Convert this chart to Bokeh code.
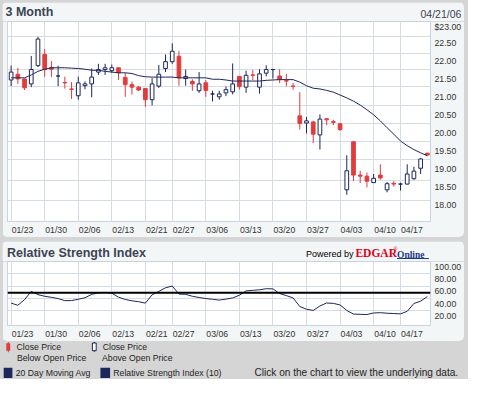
from bokeh.plotting import figure
from bokeh.layouts import column
from bokeh.models import Range1d, FixedTicker, Label, BoxAnnotation, Span, ColumnDataSource
from bokeh.embed import file_html
from bokeh.resources import INLINE

# ---------------- data ----------------
dates = ["01/23", "01/24", "01/25", "01/26", "01/27",
         "01/30", "01/31", "02/01", "02/02", "02/03",
         "02/06", "02/07", "02/08", "02/09", "02/10",
         "02/13", "02/14", "02/15", "02/16", "02/17",
         "02/21", "02/22", "02/23", "02/24",
         "02/27", "02/28", "03/01", "03/02", "03/03",
         "03/06", "03/07", "03/08", "03/09", "03/10",
         "03/13", "03/14", "03/15", "03/16", "03/17",
         "03/20", "03/21", "03/22", "03/23", "03/24",
         "03/27", "03/28", "03/29", "03/30", "03/31",
         "04/03", "04/04", "04/05", "04/06", "04/07",
         "04/10", "04/11", "04/12", "04/13",
         "04/17", "04/18", "04/19", "04/20", "04/21"]

opens = [21.48, 21.64, 21.51, 21.37, 21.88, 22.19, 21.83, 21.59, 21.41, 21.23,
         21.04, 21.32, 21.37, 21.70, 21.77, 21.74, 21.82, 21.55, 21.35, 21.28,
         21.24, 20.93, 21.31, 21.80, 21.99, 22.14, 21.52, 21.44, 21.18, 21.40,
         21.09, 21.01, 21.12, 21.15, 21.58, 21.28, 21.62, 21.28, 21.67, 21.77,
         21.59, 21.46, 21.31, 20.48, 20.28, 20.31, 19.95, 20.40, 20.32, 20.26,
         18.42, 19.76, 18.83, 18.80, 18.62, 18.83, 18.42, 18.60, 18.58, 18.58,
         18.73, 19.02, 19.44]
highs = [21.88, 21.82, 21.51, 22.15, 22.68, 22.34, 22.01, 21.88, 21.57, 21.42,
         21.57, 21.44, 21.80, 21.93, 21.93, 21.91, 21.82, 21.68, 21.44, 21.31,
         21.24, 21.53, 21.90, 22.19, 22.50, 22.29, 21.77, 21.50, 21.70, 21.48,
         21.18, 21.18, 21.30, 21.94, 21.58, 21.74, 21.76, 21.78, 21.89, 21.79,
         21.78, 21.65, 21.40, 21.14, 20.45, 20.34, 20.52, 20.40, 20.37, 20.26,
         19.38, 19.76, 18.95, 18.90, 18.86, 19.13, 18.64, 18.66, 18.62, 19.13,
         19.06, 19.30, 19.45]
lows = [21.31, 21.37, 21.20, 21.28, 21.84, 21.57, 21.56, 21.31, 21.24, 20.95,
        20.93, 21.22, 21.00, 21.62, 21.62, 21.68, 21.48, 21.01, 21.07, 21.17,
        20.73, 20.77, 21.26, 21.70, 21.93, 21.32, 21.32, 21.18, 21.12, 21.01,
        20.88, 20.93, 21.03, 21.08, 21.21, 21.12, 21.48, 21.10, 21.58, 21.52,
        21.39, 21.30, 21.21, 20.10, 19.99, 19.72, 19.54, 20.22, 20.22, 20.06,
        18.28, 18.66, 18.61, 18.49, 18.62, 18.70, 18.35, 18.51, 18.40, 18.57,
        18.70, 18.86, 19.38]
closes = [21.70, 21.51, 21.26, 21.77, 22.62, 21.77, 21.78, 21.59, 21.40, 21.22,
          21.40, 21.37, 21.56, 21.77, 21.82, 21.82, 21.68, 21.35, 21.28, 21.20,
          20.93, 21.37, 21.64, 21.99, 22.28, 21.54, 21.58, 21.37, 21.37, 21.19,
          21.09, 21.09, 21.21, 21.37, 21.30, 21.61, 21.61, 21.65, 21.77, 21.77,
          21.49, 21.45, 21.30, 20.27, 20.34, 19.97, 20.39, 20.37, 20.30, 20.10,
          18.95, 18.83, 18.80, 18.66, 18.74, 18.75, 18.59, 18.58, 18.58, 18.86,
          18.94, 19.28, 19.39]
ma20 = [21.54, 21.54, 21.54, 21.62, 21.72, 21.78, 21.82, 21.82, 21.82, 21.81,
        21.80, 21.78, 21.75, 21.75, 21.72, 21.70, 21.68, 21.68, 21.66, 21.60,
        21.57, 21.56, 21.56, 21.56, 21.56, 21.54, 21.54, 21.54, 21.54, 21.54,
        21.50, 21.50, 21.48, 21.45, 21.45, 21.45, 21.45, 21.45, 21.47, 21.48,
        21.49, 21.49, 21.49, 21.42, 21.32, 21.25, 21.23, 21.19, 21.14, 21.06,
        20.98, 20.89, 20.78, 20.65, 20.51, 20.34, 20.15, 19.97, 19.78, 19.65,
        19.54, 19.45, 19.37]
rsi10 = [40.7, 37.2, 46.3, 59.7, 54.5, 51.8, 50.1, 48.1, 44.7, 44.8,
         46.9, 49.4, 54.9, 57.5, 58.0, 56.9, 50.3, 46.6, 44.4, 43.0,
         40.7, 54.2, 59.7, 65.5, 68.4, 55.4, 55.0, 51.8, 49.8, 48.1,
         46.9, 45.6, 47.2, 49.1, 53.5, 60.6, 61.4, 62.3, 64.1, 63.8,
         56.2, 52.9, 49.1, 35.2, 30.8, 28.8, 36.1, 40.9, 40.3, 37.7,
         28.8, 22.9, 22.5, 22.2, 24.7, 25.2, 24.3, 23.8, 23.3, 27.4,
         40.1, 43.8, 51.4]
rsi_level = 57.4

x_tick_labels = ["01/23", "01/30", "02/06", "02/13", "02/21", "02/27", "03/06",
                 "03/13", "03/20", "03/27", "04/03", "04/10", "04/17"]
price_ticks = [18.0, 18.5, 19.0, 19.5, 20.0, 20.5, 21.0, 21.5, 22.0, 22.5, 23.0]
price_tick_labels = ["18.00", "18.50", "19.00", "19.50", "20.00", "20.50",
                     "21.00", "21.50", "22.00", "22.50", "$23.00"]
price_grid = [22.70, 22.23, 21.76, 21.29, 20.78, 20.28, 19.76, 19.26, 18.68, 18.12]
rsi_ticks = [20, 40, 60, 80, 100]
rsi_tick_labels = ["20.00", "40.00", "60.00", "80.00", "100.00"]
rsi_grid = [28.4, 48.0, 68.3, 88.0]

# ---------------- style ----------------
NAVY = "#1c275c"
RED = "#e13c3c"
BG = "#d5d5d5"
PANEL = "#f3f6f6"
GRID = "#d6dce6"
TXT = "#3c4454"
FONT = "Liberation Sans"
LABEL_SHIFT = 1.7   # date labels sit to the right of their grid line

idx = list(range(len(dates)))
x_ticks = [dates.index(d) for d in x_tick_labels]
x_label_pos = [t + LABEL_SHIFT for t in x_ticks]
is_up = [c >= o for o, c in zip(opens, closes)]
src = ColumnDataSource(dict(
    x=idx,
    top=[max(o, c) for o, c in zip(opens, closes)],
    bottom=[min(o, c) for o, c in zip(opens, closes)],
    high=highs, low=lows,
    color=[NAVY if u else RED for u in is_up],
    fill=["white" if u else RED for u in is_up],
))

panel_styles = {"border-radius": "5px", "overflow": "hidden",
                "outline": "1px solid #c3caca", "outline-offset": "-1px"}

xr = Range1d(-0.54, 62.47)


def strip(width, height, fill):
    s = figure(width=width, height=height, x_range=Range1d(0, 1), y_range=Range1d(0, 1),
               x_axis_type=None, y_axis_type=None, toolbar_location=None,
               output_backend="svg", min_border=0, background_fill_color=fill,
               border_fill_color=fill, outline_line_color=None)
    s.grid.visible = False
    return s


def text(p, x, y, txt, size, color, font=FONT, style="normal"):
    p.add_layout(Label(x=x, y=y, x_units="screen", y_units="screen", text=txt,
                       text_font=font, text_font_size=size, text_font_style=style,
                       text_color=color, text_align="left", text_baseline="middle"))


def box(p, l, r, b, t, fill, line=None):
    p.add_layout(BoxAnnotation(left=l, right=r, bottom=b, top=t,
                               left_units="screen", right_units="screen",
                               bottom_units="screen", top_units="screen",
                               fill_color=fill, fill_alpha=1, line_color=line,
                               line_width=1, line_alpha=1))


def style_axes(p, yticks, ylabels):
    for ax in p.axis:
        ax.axis_line_color = None
        ax.major_tick_line_color = None
        ax.minor_tick_line_color = None
        ax.major_tick_in = 0
        ax.major_tick_out = 0
        ax.major_label_text_font = FONT
        ax.major_label_text_font_size = "8.7px"
        ax.major_label_text_color = "#333333"
    p.xaxis.ticker = FixedTicker(ticks=x_label_pos)
    p.xaxis.major_label_overrides = {t: l for t, l in zip(x_label_pos, x_tick_labels)}
    p.xaxis.major_label_standoff = 3
    p.yaxis.ticker = FixedTicker(ticks=yticks)
    p.yaxis.major_label_overrides = {t: l for t, l in zip(yticks, ylabels)}
    p.yaxis.major_label_standoff = 4
    p.xgrid.ticker = FixedTicker(ticks=x_ticks)
    p.xgrid.grid_line_color = GRID
    p.ygrid.grid_line_color = GRID


# ---------------- price panel ----------------
h1 = strip(462, 19, PANEL)
text(h1, 3, 9.5, "3 Month", "12.5px", TXT, style="bold")
text(h1, 418, 7.6, "04/21/06", "10.5px", TXT)

p1 = figure(width=462, height=216, x_range=xr, y_range=Range1d(17.537, 23.109),
            y_axis_location="right", toolbar_location=None, output_backend="svg",
            min_border_left=5, min_border_right=33, min_border_top=0, min_border_bottom=15,
            background_fill_color="white", border_fill_color=PANEL,
            outline_line_color="#ccd2dc")
style_axes(p1, price_ticks, price_tick_labels)
p1.ygrid.ticker = FixedTicker(ticks=price_grid)

p1.segment(x0="x", y0="low", x1="x", y1="high", line_color="color", line_width=1, source=src)
p1.vbar(x="x", width=0.55, top="top", bottom="bottom", fill_color="fill",
        line_color="color", line_width=1, source=src)
p1.line(idx, ma20, line_color=NAVY, line_width=1)

# ---------------- RSI panel ----------------
h2 = strip(462, 20, PANEL)
text(h2, 4.5, 8.4, "Relative Strength Index", "12.5px", TXT, style="bold")
text(h2, 303.5, 7.9, "Powered by", "9px", "black")
text(h2, 352.9, 8.2, "EDGAR", "11.5px", "#e0001b", font="Liberation Serif", style="bold")
text(h2, 391.3, 12.3, "\u00ae", "5px", "#e0001b")
text(h2, 394.5, 7.0, "Online", "9.5px", "#1d3b87", font="Liberation Serif", style="bold")
box(h2, 394.5, 426.4, 2.6, 3.6, "#1d3b87")

p2 = figure(width=462, height=80, x_range=xr, y_range=Range1d(4.4, 108.2),
            y_axis_location="right", toolbar_location=None, output_backend="svg",
            min_border_left=5, min_border_right=33, min_border_top=0, min_border_bottom=16,
            background_fill_color="white", border_fill_color=PANEL,
            outline_line_color="#ccd2dc")
style_axes(p2, rsi_ticks, rsi_tick_labels)
p2.ygrid.ticker = FixedTicker(ticks=rsi_grid)
p2.add_layout(Span(location=rsi_level, dimension="width", line_color="black", line_width=2))
p2.line(idx, rsi10, line_color=NAVY, line_width=1)

# ---------------- legend strip ----------------
p3 = strip(468, 38, BG)
box(p3, 7.3, 8.3, 27.2, 37.4, RED)
box(p3, 5.8, 9.7, 28.8, 36.2, RED)
box(p3, 93.3, 94.3, 27.7, 37.5, NAVY)
box(p3, 91.9, 95.7, 28.8, 36.5, "white", NAVY)
box(p3, 3.2, 11.9, 1.6, 11.8, NAVY)
box(p3, 99.9, 109.6, 1.6, 11.8, NAVY)

for (lx, ly, txt) in [(16.1, 32.6, "Close Price"), (102.2, 32.6, "Close Price"),
                      (16.4, 21.4, "Below Open Price"), (101.5, 21.4, "Above Open Price"),
                      (15.2, 7.0, "20 Day Moving Avg"),
                      (112.8, 7.0, "Relative Strength Index (10)")]:
    text(p3, lx, ly, txt, "8.7px", "#1e1e1e")
text(p3, 254, 6.7, "Click on the chart to view the underlying data.", "10.1px", "#1e1e1e")

# header strips sit in their own boxes so their frames are not aligned with the charts
panel1 = column(column(h1), p1, spacing=0, margin=(2, 4, 0, 2), styles=panel_styles)
panel2 = column(column(h2), p2, spacing=0, margin=(4, 4, 0, 2), styles=panel_styles)
layout = column(panel1, panel2, p3, spacing=0, styles={"background-color": BG})

open("out.html", "w").write(file_html(layout, INLINE))
